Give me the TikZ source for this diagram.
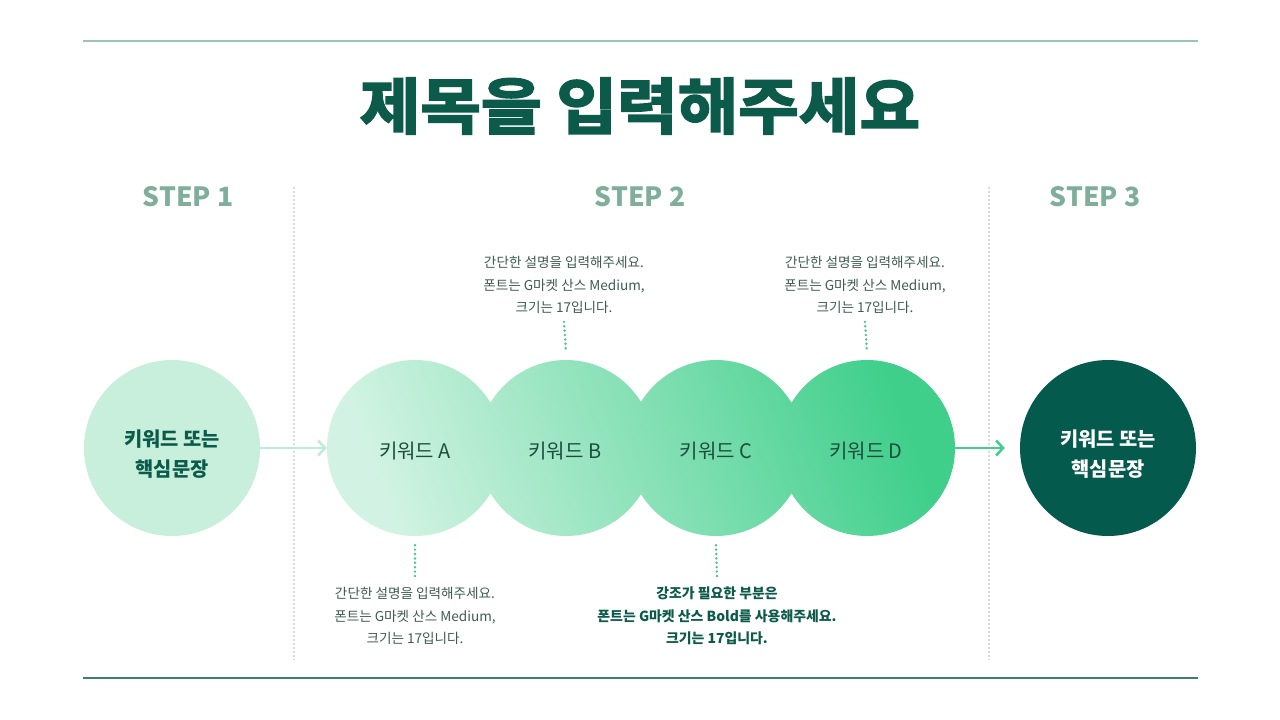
\documentclass[tikz,border=0pt]{standalone}
\usepackage{fontspec}
\setmainfont{Noto Sans CJK KR}
\newfontfamily\titlefont[FakeBold=3,FakeStretch=1.08]{Noto Sans CJK KR Bold}
\usetikzlibrary{arrows.meta}
\definecolor{titlegreen}{HTML}{0B5A4A}
\definecolor{topline}{HTML}{9CC4B4}
\definecolor{botline}{HTML}{3E7F6C}
\definecolor{steptxt}{HTML}{7FAE9B}
\definecolor{desctxt}{HTML}{3F5C52}
\definecolor{kwtxt}{HTML}{1E4D3F}
\definecolor{dotgreen}{HTML}{4CC290}
\definecolor{graydot}{HTML}{DADADA}
\definecolor{light1}{HTML}{C8EFDC}
\definecolor{gradA}{HTML}{D2F3E3}
\definecolor{gradD}{HTML}{3FCF8B}
\definecolor{dark3}{HTML}{045A4D}
\definecolor{arrowlight}{HTML}{BDEDD6}
\definecolor{arrowdark}{HTML}{42CF8C}
\tikzset{
  steplabel/.style={text=steptxt, font=\fontsize{26.5}{30}\selectfont\bfseries},
  desc/.style={text=desctxt, align=center, font=\fontsize{13.6}{22.5}\selectfont, inner sep=0pt},
  descbold/.style={text=titlegreen, align=center, font=\fontsize{13.9}{22.5}\selectfont\bfseries, inner sep=0pt},
  kw/.style={circle, minimum size=176pt, inner sep=0pt},
  kwlabel/.style={text=kwtxt, font=\fontsize{20}{22}\selectfont},
  endlabel/.style={align=center, font=\fontsize{19.8}{30}\selectfont\bfseries},
  dotline/.style={dotgreen, line width=2.7pt, line cap=round, dash pattern=on 0pt off 4.4pt},
  grayline/.style={graydot, line width=1.5pt, dash pattern=on 2pt off 2pt},
  flowarrow/.style={line width=2.5pt, -{Straight Barb[length=7pt,width=15pt,line width=2.5pt]}},
}
\begin{document}
\begin{tikzpicture}[x=1pt,y=-1pt]
\useasboundingbox[fill=white] (0,0) rectangle (1280,720);
% rules
\draw[topline, line width=1.5pt] (83,41) -- (1198,41);
\draw[botline, line width=1.5pt] (83,678) -- (1198,678);
% title
\node[text=titlegreen, font=\titlefont\fontsize{61}{70}\selectfont] (title) at (640,106) {제목을 입력해주세요};
% step labels
\node[steplabel] (st1) at (188,197) {STEP 1};
\node[steplabel] (st2) at (640,197) {STEP 2};
\node[steplabel] (st3) at (1095,197) {STEP 3};
% vertical dividers
\coordinate (d1t) at (294,187); \coordinate (d1b) at (294,660);
\coordinate (d2t) at (989,187); \coordinate (d2b) at (989,660);
\draw[grayline] (d1t) -- (d1b);
\draw[grayline] (d2t) -- (d2b);
% step 1 circle
\fill[light1] (172,448) circle (88);
\node[kw] (S1) at (172,448) {};
\node[endlabel, text=titlegreen] (S1t) at (172,454) {키워드 또는\\핵심문장};
% step 2 merged circles
\begin{scope}
\clip (415,448) circle (88) (566,448) circle (88) (716,448) circle (88) (867,448) circle (88);
\shade[left color=gradA, right color=gradD, shading angle=110] (320,355) rectangle (960,540);
\end{scope}
\node[kw] (A) at (415,448) {};
\node[kw] (B) at (566,448) {};
\node[kw] (C) at (716,448) {};
\node[kw] (D) at (867,448) {};
\node[kwlabel] (At) at (415,451) {키워드 A};
\node[kwlabel] (Bt) at (565,451) {키워드 B};
\node[kwlabel] (Ct) at (716,451) {키워드 C};
\node[kwlabel] (Dt) at (866,451) {키워드 D};
% step 3 circle
\fill[dark3] (1108,448) circle (88);
\node[kw] (S3) at (1108,448) {};
\node[endlabel, text=white] (S3t) at (1108,454) {키워드 또는\\핵심문장};
% arrows
\draw[flowarrow, arrowlight] (S1.east) -- (A.west);
\draw[flowarrow, arrowdark, shorten >=15pt] (D.east) -- (S3.west);
% descriptions
\node[desc] (dB) at (564,285) {간단한 설명을 입력해주세요.\\폰트는 G마켓 산스 Medium,\\크기는 17입니다.};
\node[desc] (dD) at (865,285) {간단한 설명을 입력해주세요.\\폰트는 G마켓 산스 Medium,\\크기는 17입니다.};
\node[desc] (dA) at (415,616) {간단한 설명을 입력해주세요.\\폰트는 G마켓 산스 Medium,\\크기는 17입니다.};
\node[descbold] (dC) at (717,616) {강조가 필요한 부분은\\폰트는 G마켓 산스 Bold를 사용해주세요.\\크기는 17입니다.};
% dotted connectors
\draw[dotline] ([yshift=-8pt]dB.south) -- ([yshift=8pt]B.north);
\draw[dotline] ([yshift=-8pt]dD.south) -- ([yshift=8pt]D.north);
\draw[dotline] ([yshift=-9pt]A.south) -- ([yshift=8pt]dA.north);
\draw[dotline] ([yshift=-9pt]C.south) -- ([yshift=8pt]dC.north);
\end{tikzpicture}
\end{document}
